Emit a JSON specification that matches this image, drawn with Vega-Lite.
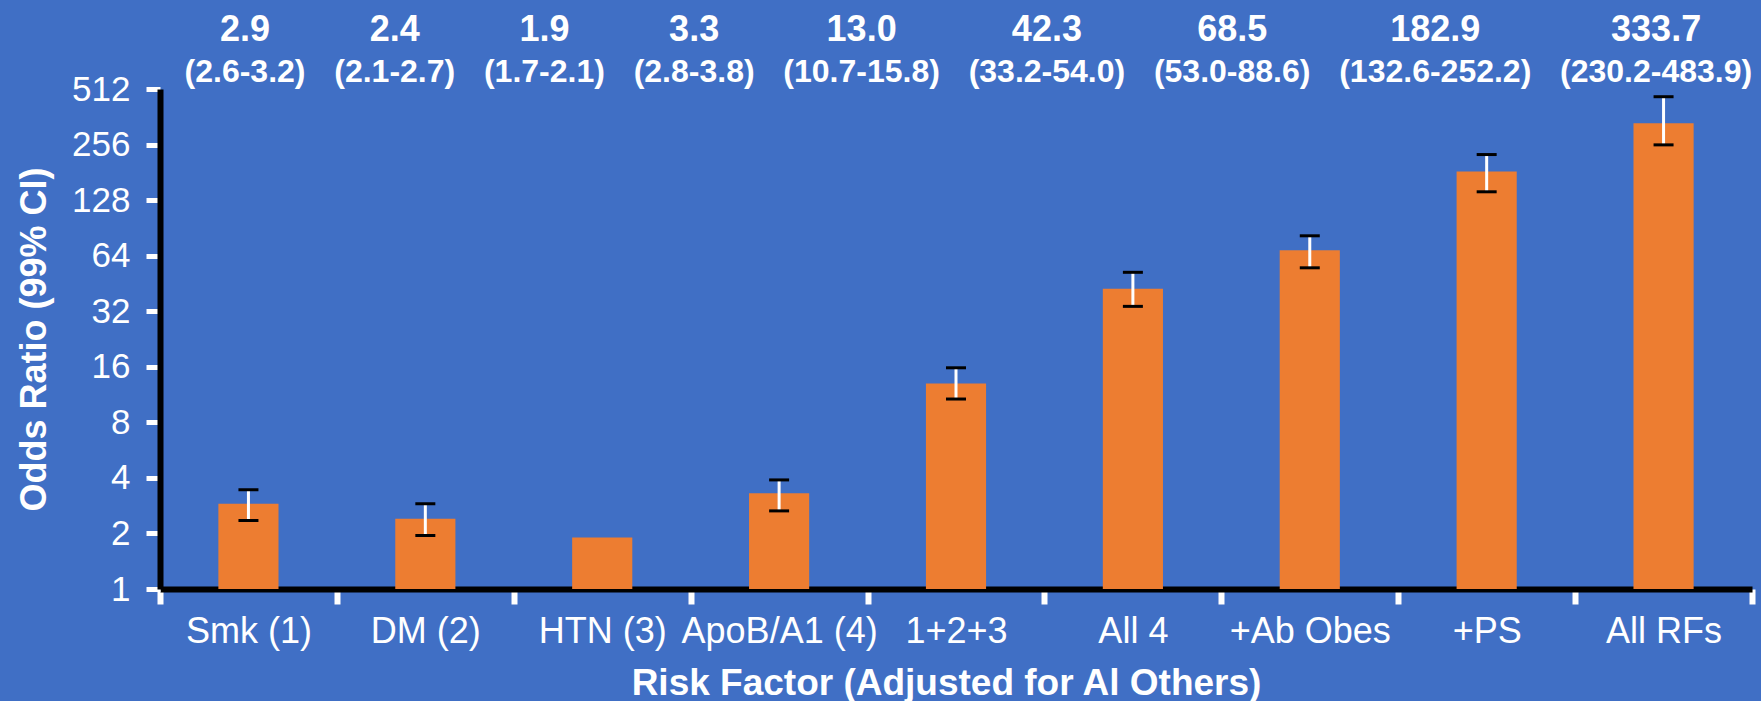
{
  "$schema": "https://vega.github.io/schema/vega-lite/v6.json",
  "width": 1592,
  "height": 500,
  "autosize": {"type": "none"},
  "padding": {"left": 160, "top": 89, "right": 9, "bottom": 112},
  "background": "#406FC5",
  "config": {
    "view": {"stroke": null},
    "font": "Liberation Sans"
  },
  "data": {
    "values": [
      {"cat": "Smk (1)", "or": 2.9, "lo": 2.35, "hi": 3.45, "orLabel": "2.9", "ciLabel": "(2.6-3.2)"},
      {"cat": "DM (2)", "or": 2.4, "lo": 1.95, "hi": 2.9, "orLabel": "2.4", "ciLabel": "(2.1-2.7)"},
      {"cat": "HTN (3)", "or": 1.9, "lo": null, "hi": null, "orLabel": "1.9", "ciLabel": "(1.7-2.1)"},
      {"cat": "ApoB/A1 (4)", "or": 3.3, "lo": 2.65, "hi": 3.9, "orLabel": "3.3", "ciLabel": "(2.8-3.8)"},
      {"cat": "1+2+3", "or": 13.0, "lo": 10.7, "hi": 15.8, "orLabel": "13.0", "ciLabel": "(10.7-15.8)"},
      {"cat": "All 4", "or": 42.3, "lo": 34.0, "hi": 52.0, "orLabel": "42.3", "ciLabel": "(33.2-54.0)"},
      {"cat": "+Ab Obes", "or": 68.5, "lo": 55.0, "hi": 82.0, "orLabel": "68.5", "ciLabel": "(53.0-88.6)"},
      {"cat": "+PS", "or": 182.9, "lo": 142.0, "hi": 226.0, "orLabel": "182.9", "ciLabel": "(132.6-252.2)"},
      {"cat": "All RFs", "or": 333.7, "lo": 255.0, "hi": 465.0, "orLabel": "333.7", "ciLabel": "(230.2-483.9)"}
    ]
  },
  "resolve": {"scale": {"x": "independent"}},
  "layer": [
    {
      "encoding": {
        "x": {
          "field": "cat",
          "type": "nominal",
          "sort": null,
          "scale": {"paddingInner": 0, "paddingOuter": 0},
          "axis": {
            "title": "Risk Factor (Adjusted for Al Others)",
            "titleFont": "Liberation Sans",
            "titleFontSize": 37,
            "titleFontWeight": "bold",
            "titleColor": "white",
            "titleX": 786,
            "titleY": 105,
            "titleBaseline": "alphabetic",
            "labelAngle": 0,
            "labelFontSize": 36,
            "labelColor": "white",
            "labelPadding": 10,
            "labelLimit": 0,
            "labelOverlap": false,
            "domainColor": "black",
            "domainWidth": 6,
            "tickColor": "white",
            "tickWidth": 6,
            "tickSize": 15,
            "tickBand": "extent"
          }
        }
      },
      "layer": [
        {
          "mark": {"type": "bar", "color": "#ED7D31", "width": {"band": 0.34}},
          "encoding": {
            "y": {
              "field": "or",
              "type": "quantitative",
              "scale": {"type": "log", "base": 2, "domain": [1, 512], "nice": false},
              "axis": {
                "title": "Odds Ratio (99% CI)",
                "titleFontSize": 36,
                "titleFontWeight": "bold",
                "titleColor": "white",
                "titleX": -126,
                "titleY": 250,
                "titleAngle": -90,
                "titleBaseline": "middle",
                "values": [1, 2, 4, 8, 16, 32, 64, 128, 256, 512],
                "format": "d",
                "labelFontSize": 35,
                "labelColor": "white",
                "labelPadding": 16,
                "domainColor": "black",
                "domainWidth": 6,
                "tickColor": "white",
                "tickWidth": 5,
                "tickSize": 14,
                "grid": false
              }
            },
            "y2": {"datum": 1}
          }
        },
        {
          "transform": [{"filter": "datum.lo != null"}],
          "mark": {"type": "rule", "color": "white", "strokeWidth": 3},
          "encoding": {
            "y": {"field": "lo", "type": "quantitative"},
            "y2": {"field": "hi"}
          }
        },
        {
          "transform": [{"filter": "datum.lo != null"}],
          "mark": {"type": "tick", "color": "black", "size": 20, "thickness": 3, "opacity": 1},
          "encoding": {"y": {"field": "lo", "type": "quantitative"}}
        },
        {
          "transform": [{"filter": "datum.hi != null"}],
          "mark": {"type": "tick", "color": "black", "size": 20, "thickness": 3, "opacity": 1},
          "encoding": {"y": {"field": "hi", "type": "quantitative"}}
        }
      ]
    },
    {
      "transform": [
        {"calculate": "length(datum.ciLabel)", "as": "n"},
        {"window": [{"op": "sum", "field": "n", "as": "cum"}, {"op": "row_number", "as": "idx"}], "frame": [null, 0]},
        {"calculate": "datum.cum - datum.n / 2 - 0.585 * (datum.idx - 1)", "as": "flow"}
      ],
      "encoding": {
        "x": {"field": "flow", "type": "quantitative", "scale": {"domain": [-0.28, 89.21], "nice": false, "zero": false}, "axis": null},
        "y": {"datum": 512}
      },
      "layer": [
        {
          "mark": {"type": "text", "color": "white", "fontSize": 36, "fontWeight": "bold", "align": "center", "baseline": "alphabetic", "dy": -48},
          "encoding": {"text": {"field": "orLabel"}}
        },
        {
          "mark": {"type": "text", "color": "white", "fontSize": 32, "fontWeight": "bold", "align": "center", "baseline": "alphabetic", "dy": -7},
          "encoding": {"text": {"field": "ciLabel"}}
        }
      ]
    }
  ]
}
